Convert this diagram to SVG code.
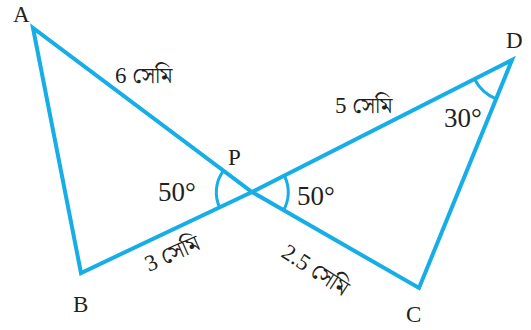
<svg xmlns="http://www.w3.org/2000/svg" width="531" height="330" viewBox="0 0 531 330">
<style>
.ln{fill:none;stroke:#17ADE6;stroke-width:4;stroke-linejoin:miter}
.arc{fill:none;stroke:#17ADE6;stroke-width:3}
.t{font-family:"Liberation Serif","Times New Roman",serif;fill:#231F20}
.bn{font-family:"Noto Serif Bengali","Noto Sans Bengali","Noto Sans",sans-serif;font-size:23px}
.v{font-size:23px}
.m{font-size:23px}
.d{font-size:27px}
</style>
<rect width="531" height="330" fill="#ffffff"/>
<g id="connectors">
<path class="ln" d="M33,28 L81,273 L252,192 L512,60 L419,288 L252,192 Z"/>
<path class="arc" d="M223.5,170.7 A36,36 0 0 0 219.9,208"/>
<path class="arc" d="M284.4,176 A36,36 0 0 1 283.5,210.2"/>
<path class="arc" d="M474.5,79 A42,42 0 0 0 496.1,98.9"/>
</g>
<g id="A"><text class="t v" x="13" y="22">A</text></g>
<g id="B"><text class="t v" x="73" y="312">B</text></g>
<g id="C"><text class="t v" x="406" y="322">C</text></g>
<g id="D"><text class="t v" x="506" y="48">D</text></g>
<g id="P"><text class="t v" x="228" y="165">P</text></g>
<g id="labels">
<text class="t m" x="115" y="83">6 <tspan class="bn">সেমি</tspan></text>
<text class="t m" x="335" y="113">5 <tspan class="bn">সেমি</tspan></text>
<text class="t m" transform="translate(149,272) rotate(-24)">3 <tspan class="bn">সেমি</tspan></text>
<text class="t m" transform="translate(280,256) rotate(33)">2.5 <tspan class="bn">সেমি</tspan></text>
<text class="t d" x="158" y="201">50°</text>
<text class="t d" x="297" y="205">50°</text>
<text class="t d" x="444" y="127">30°</text>
</g>
</svg>
